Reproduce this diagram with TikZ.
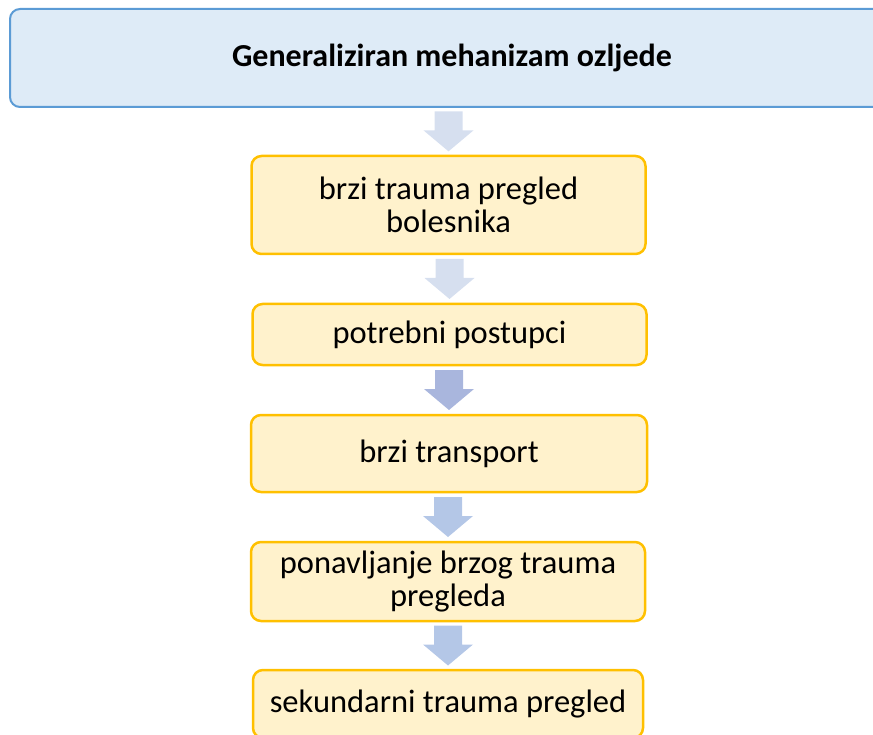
\documentclass[tikz,border=0pt]{standalone}
\usepackage{fontspec}
\setmainfont{Carlito}
\usetikzlibrary{calc}
\definecolor{titlefill}{HTML}{DEEBF7}
\definecolor{titleline}{HTML}{5B9BD5}
\definecolor{stepfill}{HTML}{FFF2CC}
\definecolor{stepline}{HTML}{FFC000}
\definecolor{arrowlight}{HTML}{D6DFEF}
\definecolor{arrowdark}{HTML}{A9B6DD}
\definecolor{arrowmid}{HTML}{B4C7E7}
\tikzset{
  titlebox/.style={draw=titleline, fill=titlefill, line width=2pt, rounded corners=10pt,
    minimum width=884pt, minimum height=98pt, font=\fontsize{32}{34}\selectfont\bfseries},
  stepbox/.style={draw=stepline, fill=stepfill, line width=2.5pt, rounded corners=10pt,
    minimum width=394pt, inner sep=2pt, align=center, font=\fontsize{32.5}{33}\selectfont}
}
\begin{document}
\begin{tikzpicture}[x=1pt, y=-1pt, line join=round]
  \useasboundingbox (0,0) rectangle (873,735);
  \node[titlebox] (T) at (452,58) {Generaliziran mehanizam ozljede};
  \node[stepbox, minimum height=98pt] (B1) at (448.5,205) {brzi trauma pregled\\bolesnika};
  \node[stepbox, minimum height=61pt] (B2) at (449.5,334.5) {potrebni postupci};
  \node[stepbox, minimum height=77pt, minimum width=396pt] (B3) at (449,453.5) {brzi transport};
  \node[stepbox, minimum height=79pt] (B4) at (448,581.5) {ponavljanje brzog trauma\\pregleda};
  \node[stepbox, minimum height=68pt, minimum width=390pt] (B5) at (448,704) {sekundarni trauma pregled};

  % block arrows between the boxes
  \foreach \od/\do/\boja in {T/B1/arrowlight, B1/B2/arrowlight, B2/B3/arrowdark, B3/B4/arrowmid, B4/B5/arrowmid}{
    \path (\od.south) -- (\od.south |- \do.north) coordinate[midway] (m);
    \coordinate (s) at (m -| \do.north);
    \fill[\boja] ($(s)+(-14,-20)$) -- ++(28,0) -- ++(0,19) -- ++(11,0)
      -- ($(s)+(0,20)$) -- ($(s)+(-25,-1)$) -- ++(11,0) -- cycle;
  }
\end{tikzpicture}
\end{document}
